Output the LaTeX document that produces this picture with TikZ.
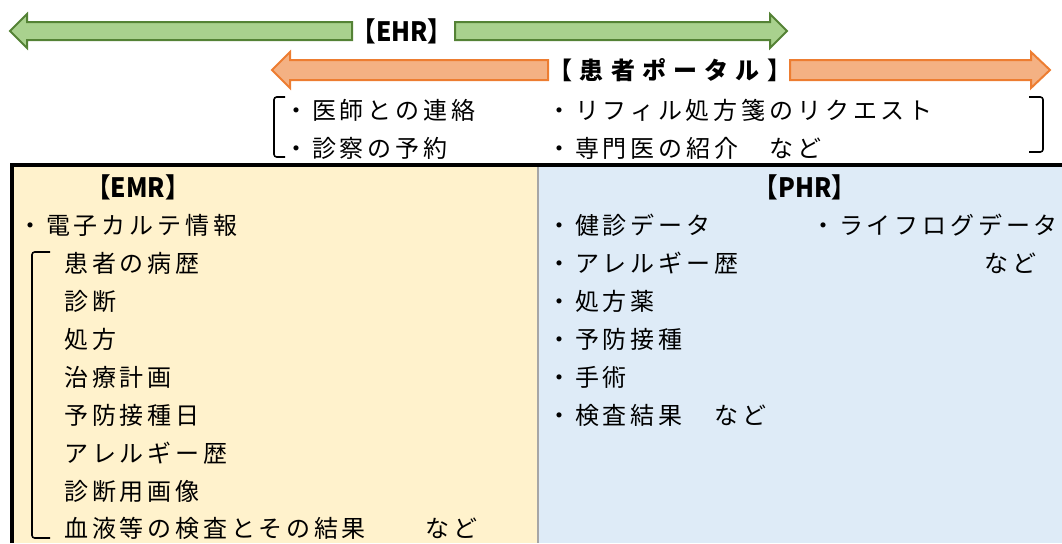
\documentclass[tikz,border=0pt]{standalone}
\usepackage{fontspec}
\setmainfont{Noto Sans CJK JP}
\newfontfamily\jp[LetterSpace=16]{Noto Sans CJK JP}
\newfontfamily\jpw[LetterSpace=30]{Noto Sans CJK JP}
\newfontfamily\jpn{Noto Sans CJK JP}
\definecolor{gfill}{HTML}{A9D18E}
\definecolor{gline}{HTML}{548235}
\definecolor{ofill}{HTML}{F4B183}
\definecolor{oline}{HTML}{ED7D31}
\definecolor{beige}{HTML}{FFF2CC}
\definecolor{lblue}{HTML}{DEEBF7}
\definecolor{divgray}{HTML}{A6A6A6}
\begin{document}
\begin{tikzpicture}[x=0.75pt,y=-0.75pt,
  txt/.style={font=\jp\fontsize{18}{20}\selectfont, inner sep=0, anchor=west},
  hdr/.style={font=\jpn\bfseries\fontsize{20}{22}\selectfont, inner sep=0, xscale=0.92},
  hdrw/.style={font=\jpw\bfseries\fontsize{18}{20}\selectfont, inner sep=0},
  garrow/.style={fill=gfill, draw=gline, line width=1.5pt, line join=miter},
  oarrow/.style={fill=ofill, draw=oline, line width=1.5pt, line join=miter},
  brk/.style={draw=black, line width=1.2pt, rounded corners=2pt}]
\useasboundingbox (0,0) rectangle (1062,543);
% panels
\fill[beige] (12,165) rectangle (538,543);
\fill[lblue] (538,165) rectangle (1062,543);
\draw[divgray, line width=1.6pt] (538,167) -- (538,543);
\draw[black, line width=3pt] (12,543) -- (12,165) -- (1062,165);
% EHR arrow
\node[hdr] (ehr) at (402,31) {【EHR】};
\draw[garrow] (352,22) -- (27,22) -- (27,14) -- (10,31) -- (27,48) -- (27,40) -- (352,40) -- cycle;
\draw[garrow] (455,22) -- (770,22) -- (770,14) -- (787,31) -- (770,48) -- (770,40) -- (455,40) -- cycle;
% portal arrow
\node[hdrw] (portal) at (670,70) {【患者ポータル】};
\draw[oarrow] (548,60) -- (290,60) -- (290,52) -- (272,70) -- (290,88) -- (290,80) -- (548,80) -- cycle;
\draw[oarrow] (790,60) -- (1031,60) -- (1031,52) -- (1050,70) -- (1031,88) -- (1031,80) -- (790,80) -- cycle;
% portal items
\draw[brk] (285,97) -- (274,97) -- (274,157) -- (285,157);
\draw[brk] (1029,97) -- (1043,97) -- (1043,152) -- (1029,152);
\node[txt] (p1) at (284,110) {・医師との連絡};
\node[txt] (p2) at (284,148) {・診察の予約};
\node[txt] (p3) at (547,110) {・リフィル処方箋のリクエスト};
\node[txt] (p4) at (547,148) {・専門医の紹介　など};
% EMR
\node[hdr] (emr) at (138,187) {【EMR】};
\node[txt] (e0) at (18,225) {・電子カルテ情報};
\draw[brk] (50,252) -- (32,252) -- (32,538) -- (50,538);
\node[txt] (e1) at (64,263) {患者の病歴};
\node[txt] (e2) at (64,301) {診断};
\node[txt] (e3) at (64,339) {処方};
\node[txt] (e4) at (64,377) {治療計画};
\node[txt] (e5) at (64,415) {予防接種日};
\node[txt] (e6) at (64,453) {アレルギー歴};
\node[txt] (e7) at (64,491) {診断用画像};
\node[txt] (e8) at (64,528) {血液等の検査とその結果　　など};
% PHR
\node[hdr] (phr) at (805,187) {【PHR】};
\node[txt] (h1) at (547,225) {・健診データ};
\node[txt] (h2) at (547,263) {・アレルギー歴};
\node[txt] (h3) at (547,301) {・処方薬};
\node[txt] (h4) at (547,339) {・予防接種};
\node[txt] (h5) at (547,377) {・手術};
\node[txt] (h6) at (547,415) {・検査結果　など};
\node[txt] (h7) at (811,225) {・ライフログデータ};
\node[txt] (h8) at (984,263) {など};
\end{tikzpicture}
\end{document}
